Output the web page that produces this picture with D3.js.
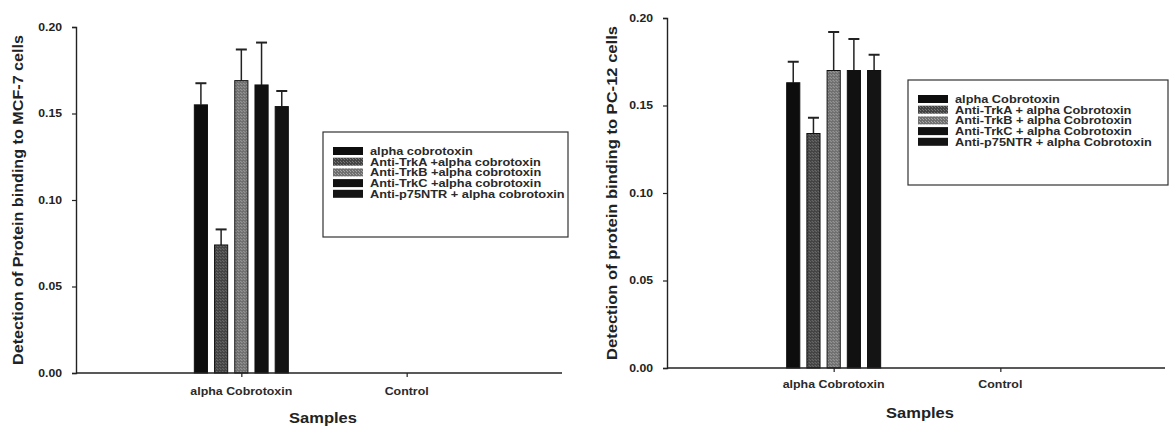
<!DOCTYPE html>
<html>
<head>
<meta charset="utf-8">
<script src="https://cdn.jsdelivr.net/npm/d3@7"></script>
<style>
  body { margin: 0; background: #fff; }
  svg { font-family: "Liberation Sans", Arial, sans-serif; }
</style>
</head>
<body>
<div id="chart"></div>
<script>
const categories = ["alpha Cobrotoxin", "Control"];
const yTicks = [0.00, 0.05, 0.10, 0.15, 0.20];

const mcfSeries = ["alpha cobrotoxin", "Anti-TrkA +alpha cobrotoxin", "Anti-TrkB +alpha cobrotoxin",
                   "Anti-TrkC +alpha cobrotoxin", "Anti-p75NTR + alpha cobrotoxin"];
const mcfValues = [0.155, 0.074, 0.169, 0.1665, 0.154];
const mcfErrors = [0.0125, 0.009, 0.018, 0.0245, 0.009];

const pcSeries = ["alpha Cobrotoxin", "Anti-TrkA + alpha Cobrotoxin", "Anti-TrkB + alpha Cobrotoxin",
                  "Anti-TrkC + alpha Cobrotoxin", "Anti-p75NTR + alpha Cobrotoxin"];
const pcValues = [0.163, 0.134, 0.170, 0.170, 0.170];
const pcErrors = [0.012, 0.009, 0.022, 0.018, 0.009];

const fills = ["#0d0d0d", "url(#hatchA)", "url(#hatchB)", "#111", "#141414"];

// the scanned figure is a little wider than it is tall, so stretch text to match
function stretch(sel, k) {
    sel.each(function() {
        const len = this.getComputedTextLength();
        d3.select(this).attr("textLength", len * k).attr("lengthAdjust", "spacingAndGlyphs");
    });
}

const svg = d3.select("#chart").append("svg")
    .attr("width", 1170)
    .attr("height", 426);

// dotted textures for the grey bars
const defs = svg.append("defs");
[["hatchA", "#444", "#777"], ["hatchB", "#707070", "#a5a5a5"]].forEach(([id, base, dot]) => {
    const p = defs.append("pattern").attr("id", id)
        .attr("width", 3).attr("height", 3).attr("patternUnits", "userSpaceOnUse");
    p.append("rect").attr("width", 3).attr("height", 3).attr("fill", base);
    p.append("rect").attr("width", 1).attr("height", 1).attr("fill", dot);
    p.append("rect").attr("x", 2).attr("y", 2).attr("width", 1).attr("height", 1).attr("fill", dot);
});

const panels = [
    { left: 76, top: 27, bottom: 373, right: 562, catWidth: 496, yTitle: "Detection of Protein binding to MCF-7 cells",
      yTitleX: 18, yTitleLen: 330, labelY: 395, samplesY: 423, series: mcfSeries, values: mcfValues, errors: mcfErrors,
      legend: { x: 323, y: 132, w: 245, h: 105 } },
    { left: 667, top: 18, bottom: 368, right: 1165, catWidth: 500, yTitle: "Detection of protein binding to PC-12 cells",
      yTitleX: 612, yTitleLen: 334, labelY: 388, samplesY: 418, series: pcSeries, values: pcValues, errors: pcErrors,
      legend: { x: 908, y: 80, w: 260, h: 105 } }
];

panels.forEach(p => {
    const w = p.right - p.left;
    const g = svg.append("g").attr("transform", `translate(${p.left},0)`);

    const y = d3.scaleLinear().domain([0, 0.2]).range([p.bottom, p.top]);
    const x = d3.scalePoint().domain(categories).range([0, p.catWidth]).padding(1);
    const xs = d3.scaleBand().domain(d3.range(p.series.length)).range([-47, 47]).paddingInner(0.35);

    const yAxis = g.append("g")
        .call(d3.axisLeft(y).tickValues(yTicks).tickFormat(d3.format(".2f")).tickSize(4).tickPadding(10));
    yAxis.select(".domain").attr("stroke", "#222").attr("stroke-width", 1.4);
    yAxis.selectAll(".tick line").attr("stroke", "#222").attr("stroke-width", 1.2);
    yAxis.selectAll("text").attr("font-size", 10).attr("font-weight", "bold").attr("fill", "#222");
    stretch(yAxis.selectAll("text"), 1.22);

    // bars
    const bars = g.append("g").attr("transform", `translate(${x(categories[0])},0)`);
    p.values.forEach((v, i) => {
        const bx = xs(i), bw = xs.bandwidth();
        const top = y(v), et = y(v + p.errors[i]);
        bars.append("line")
            .attr("x1", bx + bw / 2).attr("x2", bx + bw / 2)
            .attr("y1", top).attr("y2", et)
            .attr("stroke", "#222").attr("stroke-width", 1.5);
        bars.append("line")
            .attr("x1", bx + bw / 2 - 5.5).attr("x2", bx + bw / 2 + 5.5)
            .attr("y1", et).attr("y2", et)
            .attr("stroke", "#222").attr("stroke-width", 2);
        bars.append("rect")
            .attr("x", bx).attr("y", top)
            .attr("width", bw).attr("height", p.bottom - top)
            .attr("fill", fills[i])
            .attr("stroke", "#111").attr("stroke-width", 1);
    });

    const xAxis = g.append("g").attr("transform", `translate(0,${p.bottom})`)
        .call(d3.axisBottom(x).tickSize(4).tickSizeOuter(0).tickFormat(""));
    xAxis.select(".domain").attr("stroke", "#222").attr("stroke-width", 1.4).attr("d", `M0,0H${w}`);
    xAxis.selectAll(".tick line").attr("stroke", "#222").attr("stroke-width", 1.2);

    const catLabels = g.selectAll(".cat-label").data(categories).join("text")
        .attr("class", "cat-label")
        .attr("x", d => x(d)).attr("y", p.labelY)
        .attr("text-anchor", "middle")
        .attr("font-size", 10.5).attr("font-weight", "bold").attr("fill", "#2a2a2a")
        .text(d => d);
    stretch(catLabels, 1.18);

    const samples = g.append("text")
        .attr("x", w / 2 + 4)
        .attr("y", p.samplesY)
        .attr("text-anchor", "middle")
        .attr("font-size", 15).attr("font-weight", "bold").attr("fill", "#222")
        .text("Samples");
    stretch(samples, 1.1);

    svg.append("text")
        .attr("transform", `translate(${p.yTitleX},${(p.top + p.bottom) / 2}) rotate(-90)`)
        .attr("text-anchor", "middle").attr("dominant-baseline", "central")
        .attr("font-size", 14).attr("font-weight", "bold").attr("fill", "#222")
        .attr("textLength", p.yTitleLen).attr("lengthAdjust", "spacingAndGlyphs")
        .text(p.yTitle);

    // legend
    const L = p.legend;
    const lg = svg.append("g").attr("transform", `translate(${L.x},${L.y})`);
    lg.append("rect").attr("width", L.w).attr("height", L.h)
        .attr("fill", "#fff").attr("stroke", "#333").attr("stroke-width", 1.2);
    p.series.forEach((s, i) => {
        const ry = 19 + i * 10.7;
        lg.append("rect").attr("x", 10).attr("y", ry - 4).attr("width", 30).attr("height", 8)
            .attr("fill", fills[i]);
        const t = lg.append("text").attr("x", 47).attr("y", ry)
            .attr("dominant-baseline", "central")
            .attr("font-size", 11).attr("font-weight", "bold").attr("fill", "#2a2a2a")
            .text(s);
        stretch(t, 1.16);
    });
});
</script>
</body>
</html>
